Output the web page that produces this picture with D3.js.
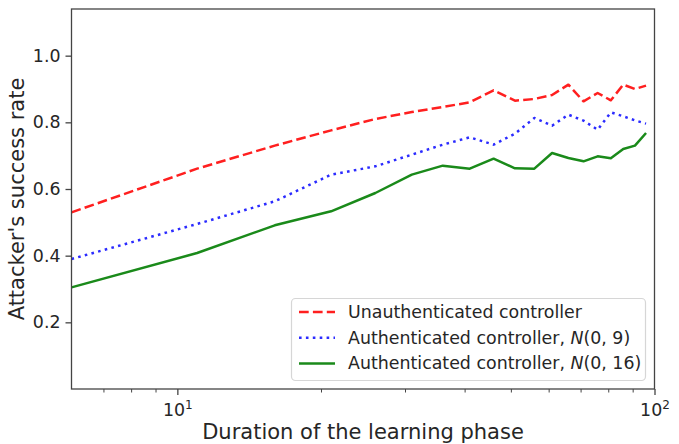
<!DOCTYPE html>
<html>
<head>
<meta charset="utf-8">
<script src="https://cdn.jsdelivr.net/npm/d3@7"></script>
<style>
  body { margin: 0; background: #fff; }
  svg text { font-family: "DejaVu Sans", sans-serif; fill: #262626; }
</style>
</head>
<body>
<svg id="chart"></svg>
<script>
// learning phase durations (x) and success rate per controller
const durations = [6, 11, 16, 21, 26, 31, 36, 41, 46, 51, 56, 61, 66, 71, 76, 81, 86, 91, 96];
const unauth = [0.530, 0.661, 0.730, 0.776, 0.810, 0.831, 0.846, 0.860, 0.896, 0.865,
                0.870, 0.882, 0.913, 0.863, 0.888, 0.866, 0.913, 0.900, 0.910];
const auth9 = [0.390, 0.495, 0.563, 0.643, 0.668, 0.703, 0.733, 0.755, 0.733, 0.766,
               0.813, 0.790, 0.823, 0.805, 0.778, 0.830, 0.818, 0.806, 0.796];
const auth16 = [0.305, 0.408, 0.491, 0.533, 0.588, 0.643, 0.670, 0.661, 0.691, 0.662,
                0.661, 0.708, 0.693, 0.683, 0.698, 0.692, 0.720, 0.730, 0.768];
const yTicks = [0.2, 0.4, 0.6, 0.8, 1.0];
const xMajor = [10, 100];
const xMajorExp = ['1', '2'];
const xMinor = [7, 8, 9, 20, 30, 40, 50, 60, 70, 80, 90];

const series = [
  { name: 'Unauthenticated controller', values: unauth, color: '#ff1f1f', dash: '9.7,4.2' },
  { name: 'Authenticated controller, ', math: '(0, 9)', values: auth9, color: '#2b2bff', dash: '2.6,4.3' },
  { name: 'Authenticated controller, ', math: '(0, 16)', values: auth16, color: '#1a8a1a', dash: null }
];

const W = 679, H = 444;
const margin = { top: 9, right: 24.5, bottom: 55, left: 71.5 };
const width = W - margin.left - margin.right;
const height = H - margin.top - margin.bottom;

const svg = d3.select('#chart')
    .attr('width', W)
    .attr('height', H);

const g = svg.append('g')
    .attr('transform', `translate(${margin.left},${margin.top})`);

const x = d3.scaleLog()
    .domain([6, 100])
    .range([0, width]);

const y = d3.scaleLinear()
    .domain([0, 1.14])
    .range([height, 0]);

const line = d3.line()
    .x((d, i) => x(durations[i]))
    .y(d => y(d));

series.forEach(s => {
  g.append('path')
      .datum(s.values)
      .attr('fill', 'none')
      .attr('stroke', s.color)
      .attr('stroke-width', 2.5)
      .attr('stroke-dasharray', s.dash)
      .attr('stroke-linejoin', 'round')
      .attr('d', line);
});

// axes
const yAxis = g.append('g')
    .call(d3.axisLeft(y).tickValues(yTicks).tickFormat(d3.format('.1f')).tickSize(6).tickPadding(5));
yAxis.select('.domain').remove();
yAxis.selectAll('text').style('font-size', '17.4px').attr('fill', '#262626');
yAxis.selectAll('line').attr('stroke', '#444').attr('stroke-width', 1.3);

const xMinorAxis = g.append('g')
    .attr('transform', `translate(0,${height})`)
    .call(d3.axisBottom(x).tickValues(xMinor).tickFormat('').tickSize(3.5));
xMinorAxis.select('.domain').remove();
xMinorAxis.selectAll('line').attr('stroke', '#444').attr('stroke-width', 1);

const xAxis = g.append('g')
    .attr('transform', `translate(0,${height})`)
    .call(d3.axisBottom(x).tickValues(xMajor).tickFormat('').tickSize(6));
xAxis.select('.domain').remove();
xAxis.selectAll('line').attr('stroke', '#444').attr('stroke-width', 1.3);
xAxis.selectAll('.tick').each(function(d, i) {
  const t = d3.select(this).append('text')
      .attr('y', 26.5)
      .attr('text-anchor', 'middle')
      .style('font-size', '17.4px');
  t.append('tspan').text('10');
  t.append('tspan').attr('dy', -7).style('font-size', '12px').text(xMajorExp[i]);
});

// frame
g.append('rect')
    .attr('width', width)
    .attr('height', height)
    .attr('fill', 'none')
    .attr('stroke', '#444')
    .attr('stroke-width', 1.3);

// axis labels
svg.append('text')
    .attr('x', margin.left + width / 2)
    .attr('y', 439)
    .attr('text-anchor', 'middle')
    .style('font-size', '21px')
    .text('Duration of the learning phase');

svg.append('text')
    .attr('transform', `translate(24,${margin.top + height / 2}) rotate(-90)`)
    .attr('text-anchor', 'middle')
    .style('font-size', '21px')
    .text("Attacker's success rate");

// legend
const legend = svg.append('g');
legend.append('rect')
    .attr('x', 291.5)
    .attr('y', 298.5)
    .attr('width', 354)
    .attr('height', 82)
    .attr('rx', 4)
    .attr('fill', '#fff')
    .attr('fill-opacity', 0.8)
    .attr('stroke', '#d6d6d6')
    .attr('stroke-width', 1.2);

series.forEach((s, i) => {
  const ly = 312 + i * 25.7;
  legend.append('line')
      .attr('x1', 299).attr('x2', 335)
      .attr('y1', ly).attr('y2', ly)
      .attr('stroke', s.color)
      .attr('stroke-width', 2.5)
      .attr('stroke-dasharray', s.dash);
  const t = legend.append('text')
      .attr('x', 348)
      .attr('y', ly + 6)
      .style('font-size', '17.4px');
  t.append('tspan').text(s.name);
  if (s.math) {
    t.append('tspan').style('font-style', 'italic').text('N');
    t.append('tspan').text(s.math);
  }
});
</script>
</body>
</html>
